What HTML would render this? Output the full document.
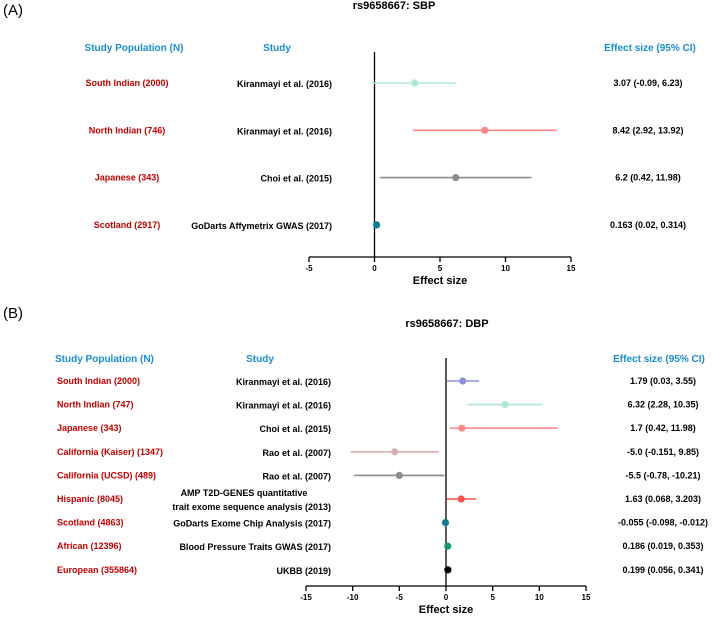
<!DOCTYPE html>
<html><head><meta charset="utf-8"><style>
body{margin:0;background:#fff}
svg text{font-family:"Liberation Sans",Arial,sans-serif;font-weight:bold}
</style></head><body>
<svg id="c" width="720" height="616" xmlns="http://www.w3.org/2000/svg"></svg>
<script>
const popsA=["South Indian (2000)","North Indian (746)","Japanese (343)","Scotland (2917)"];
const studiesA=[["Kiranmayi et al. (2016)"],["Kiranmayi et al. (2016)"],["Choi et al. (2015)"],["GoDarts Affymetrix GWAS (2017)"]];
const estA=[3.07,8.42,6.2,0.163];
const lowA=[-0.09,2.92,0.42,0.02];
const highA=[6.23,13.92,11.98,0.314];
const labelsA=["3.07 (-0.09, 6.23)","8.42 (2.92, 13.92)","6.2 (0.42, 11.98)","0.163 (0.02, 0.314)"];
const colorsA=["#aee8d2","#ff8585","#8c8c8c","#0e7f96"];
const ticksA=[-5,0,5,10,15];

const popsB=["South Indian (2000)","North Indian (747)","Japanese (343)","California (Kaiser) (1347)","California (UCSD) (489)","Hispanic (8045)","Scotland (4863)","African (12396)","European (355864)"];
const studiesB=[["Kiranmayi et al. (2016)"],["Kiranmayi et al. (2016)"],["Choi et al. (2015)"],["Rao et al. (2007)"],["Rao et al. (2007)"],["AMP T2D-GENES quantitative","trait exome sequence analysis (2013)"],["GoDarts Exome Chip Analysis (2017)"],["Blood Pressure Traits GWAS (2017)"],["UKBB (2019)"]];
const estB=[1.79,6.32,1.7,-5.5,-5.0,1.63,-0.055,0.186,0.199];
const lowB=[0.03,2.28,0.42,-10.21,-9.85,0.068,-0.098,0.019,0.056];
const highB=[3.55,10.35,11.98,-0.78,-0.151,3.203,-0.012,0.353,0.341];
const labelsB=["1.79 (0.03, 3.55)","6.32 (2.28, 10.35)","1.7 (0.42, 11.98)","-5.0 (-0.151, 9.85)","-5.5 (-0.78, -10.21)","1.63 (0.068, 3.203)","-0.055 (-0.098, -0.012)","0.186 (0.019, 0.353)","0.199 (0.056, 0.341)"];
const colorsB=["#8c90d8","#aee8d2","#ff8a8a","#dbb0b0","#8c8c8c","#ff4d4d","#137a96","#169a6e","#000000"];
const ticksB=[-15,-10,-5,0,5,10,15];

const svg=document.getElementById('c');
const NS="http://www.w3.org/2000/svg";
function el(tag,attrs,txt){const e=document.createElementNS(NS,tag);for(const k in attrs)e.setAttribute(k,attrs[k]);if(txt!==undefined)e.textContent=txt;svg.appendChild(e);return e;}

function panel(cfg){
  const xs=v=>cfg.x0+(v-cfg.dmin)/(cfg.dmax-cfg.dmin)*(cfg.x1-cfg.x0);
  const ys=i=>cfg.rowY0+i*cfg.rowStep;
  let t=el('text',{x:cfg.panelX,y:cfg.panelY,'font-size':15,style:'font-weight:normal'},cfg.panel);
  
  
  t=el('text',{x:cfg.titleX,y:cfg.titleY,'font-size':11,'text-anchor':'middle'},cfg.title);
  
  
  t=el('text',{x:cfg.popHX,y:cfg.headY,'font-size':10,fill:'#1a8ed0','text-anchor':cfg.popAnchor},'Study Population (N)');
  
  
  t=el('text',{x:cfg.studyHX,y:cfg.headY,'font-size':10,fill:'#1a8ed0','text-anchor':'middle'},'Study');
  
  
  t=el('text',{x:cfg.effHX,y:cfg.headY,'font-size':10,fill:'#1a8ed0','text-anchor':'middle'},'Effect size (95% CI)');
  
  
  let l=el('line',{x1:xs(0),x2:xs(0),y1:cfg.zeroTop,y2:cfg.axisY,stroke:'#000','stroke-width':1.3});
  
  
  l=el('line',{x1:cfg.x0,x2:cfg.x1,y1:cfg.axisY,y2:cfg.axisY,stroke:'#000','stroke-width':1.3});
  
  
  cfg.ticks.forEach(v=>{
    const tk=el('line',{x1:xs(v),x2:xs(v),y1:cfg.axisY,y2:cfg.axisY+5,stroke:'#000','stroke-width':1.3});
    
    
    const tl=el('text',{x:xs(v),y:cfg.axisY+14,'font-size':8,'text-anchor':'middle'},String(v));
    
    
  });
  t=el('text',{x:xs(cfg.labelAt),y:cfg.axisY+cfg.labelDy,'font-size':11,'text-anchor':'middle'},'Effect size');
  
  
  cfg.pops.forEach((p,i)=>{
    const y=ys(i);
    let a=el('text',{x:cfg.popX,y:y+cfg.popDy,'font-size':9,fill:'#c00000','text-anchor':cfg.popAnchor},p);
    
    
    const lines=cfg.studies[i];
    lines.forEach((s,j)=>{
      const sy=y+4+(j-(lines.length-1)/2)*14+(lines.length>1?0:cfg.studyDy);
      const b=el('text',{x:cfg.studyX,y:sy,'font-size':9,'text-anchor':lines.length>1&&j===0?'middle':'end'},s);
      if(lines.length>1&&j===0)b.setAttribute('x',cfg.studyX-87);
      
      
    });
    const ci=el('line',{x1:xs(cfg.low[i]),x2:xs(cfg.high[i]),y1:y,y2:y,stroke:cfg.colors[i],'stroke-width':1.6});
    
    
    const pt=el('circle',{cx:xs(cfg.est[i]),cy:y,r:3.6,fill:cfg.colors[i]});
    
    
    const v=el('text',{x:cfg.effX,y:y+cfg.effDy,'font-size':9,'text-anchor':'middle'},cfg.labels[i]);
    
    
  });
}

panel({key:'a',panel:'(A)',panelX:3,panelY:15,title:'rs9658667:  SBP',titleX:394,titleY:9,
 headY:51,popHX:134,popAnchor:'middle',studyHX:277,effHX:650,popX:127,popDy:3,studyX:332,studyDy:0,effX:648,effDy:3,
 x0:309,x1:571,dmin:-5,dmax:15,axisY:257,zeroTop:52,labelAt:5,labelDy:27,rowY0:83,rowStep:47.3,
 pops:popsA,studies:studiesA,est:estA,low:lowA,high:highA,labels:labelsA,colors:colorsA,ticks:ticksA});

panel({key:'b',panel:'(B)',panelX:3,panelY:318,title:'rs9658667:  DBP',titleX:447,titleY:327,
 headY:362,popHX:55,popAnchor:'start',studyHX:260,effHX:659,popX:57,popDy:3,studyX:331,studyDy:0,effX:663,effDy:3,
 x0:306,x1:586,dmin:-15,dmax:15,axisY:586,zeroTop:358,labelAt:0,labelDy:27,rowY0:381,rowStep:23.6,
 pops:popsB,studies:studiesB,est:estB,low:lowB,high:highB,labels:labelsB,colors:colorsB,ticks:ticksB});
</script>
</body></html>
